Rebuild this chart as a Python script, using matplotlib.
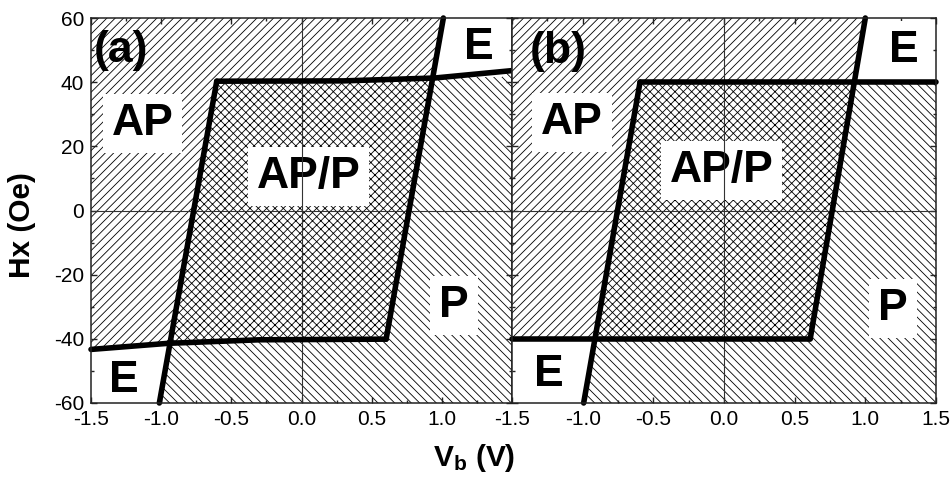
import matplotlib
matplotlib.use("Agg")
import matplotlib.pyplot as plt
from matplotlib.patches import Polygon
from matplotlib.ticker import MultipleLocator

plt.rcParams['font.family'] = ['Liberation Sans', 'DejaVu Sans']
plt.rcParams['mathtext.fontset'] = 'custom'
plt.rcParams['mathtext.rm'] = 'Liberation Sans'
plt.rcParams['mathtext.bf'] = 'Liberation Sans:bold'
plt.rcParams['hatch.linewidth'] = 0.6
plt.rcParams['axes.unicode_minus'] = False

# ---------------- data ----------------
x_ticks = [-1.5, -1.0, -0.5, 0.0, 0.5, 1.0, 1.5]
x_labels_a = ['-1.5', '-1.0', '-0.5', '0.0', '0.5', '1.0', '']
x_labels_b = ['-1.5', '-1.0', '-0.5', '0.0', '0.5', '1.0', '1.5']
y_ticks = [-60, -40, -20, 0, 20, 40, 60]

# panel (a) boundaries (V in volts, H in Oe)
a_left_V = [-1.013, -0.604]
a_left_H = [-60.0, 40.3]
a_right_V = [0.603, 1.011]
a_right_H = [-40.1, 60.0]
a_top_V = [-0.604, 0.3, 0.95, 1.5]
a_top_H = [40.3, 40.4, 41.3, 43.6]
a_bot_V = [0.603, -0.3, -0.95, -1.5]
a_bot_H = [-40.1, -40.3, -41.4, -43.3]

# panel (b) boundaries
b_left_V = [-0.993, -0.594]
b_left_H = [-60.0, 40.0]
b_right_V = [0.61, 1.0]
b_right_H = [-40.0, 60.0]
b_top_V = [-0.594, 1.5]
b_top_H = [40.0, 40.0]
b_bot_V = [0.61, -1.5]
b_bot_H = [-40.0, -40.0]

XMIN, XMAX, YMIN, YMAX = -1.5, 1.5, -60, 60


def seg_int(p1, p2, p3, p4):
    x1, y1 = p1; x2, y2 = p2; x3, y3 = p3; x4, y4 = p4
    d = (x1 - x2) * (y3 - y4) - (y1 - y2) * (x3 - x4)
    if abs(d) < 1e-12:
        return None
    t = ((x1 - x3) * (y3 - y4) - (y1 - y3) * (x3 - x4)) / d
    u = -((x1 - x2) * (y1 - y3) - (y1 - y2) * (x1 - x3)) / d
    if -1e-9 <= t <= 1 + 1e-9 and -1e-9 <= u <= 1 + 1e-9:
        return (x1 + t * (x2 - x1), y1 + t * (y2 - y1))
    return None


def cross(seg, poly):
    for i in range(len(poly) - 1):
        p = seg_int(seg[0], seg[1], poly[i], poly[i + 1])
        if p is not None:
            return p, i
    raise ValueError


def panel(ax, LV, LH, RV, RH, TV, TH, BV, BH):
    L = list(zip(LV, LH)); R = list(zip(RV, RH))
    T = list(zip(TV, TH)); B = list(zip(BV, BH))
    XRT, iT = cross(R, T)
    XLB, iB = cross(L, B)
    tail_b = [XLB] + B[iB + 1:]
    ap = list(reversed(tail_b)) + T[:iT + 1] + [XRT, R[1], (XMIN, YMAX)]
    app = [XLB] + T[:iT + 1] + [XRT] + B[:iB + 1]
    p = [L[0], XLB] + list(reversed(B[:iB + 1])) + [XRT] + T[iT + 1:] + [(XMAX, YMIN)]
    for poly, h in ((ap, '////'), (app, 'xxxx'), (p, '\\\\\\\\')):
        ax.add_patch(Polygon(poly, closed=True, facecolor='white', edgecolor='black',
                             linewidth=0, hatch=h, zorder=1))
    for xs, ys in ((LV, LH), (RV, RH), (TV, TH), (BV, BH)):
        ax.plot(xs, ys, color='black', lw=4, solid_capstyle='round',
                clip_on=False, zorder=6)
    ax.axvline(0, color='#333333', lw=0.8, zorder=4)
    ax.axhline(0, color='#333333', lw=0.8, zorder=4)
    ax.set_xlim(XMIN, XMAX)
    ax.set_ylim(YMIN, YMAX)
    ax.set_xticks(x_ticks)
    ax.set_yticks(y_ticks)
    ax.xaxis.set_minor_locator(MultipleLocator(0.25))
    ax.yaxis.set_minor_locator(MultipleLocator(10))
    ax.tick_params(which='both', direction='in', top=True, right=True,
                   labelsize=15, width=1, color='#222222')
    ax.tick_params(which='major', length=4)
    ax.tick_params(which='minor', length=2.5)
    ax.tick_params(axis='x', pad=5)
    ax.tick_params(axis='y', pad=5)
    for s in ax.spines.values():
        s.set_linewidth(1.1)
        s.set_color('#222222')
        s.set_zorder(7)


fig = plt.figure(figsize=(9.51, 4.84), dpi=100)
ax_a = fig.add_axes([91 / 951, 1 - 403 / 484, (512 - 91) / 951, (403 - 18) / 484])
ax_b = fig.add_axes([512 / 951, 1 - 403 / 484, (936 - 512) / 951, (403 - 18) / 484])

panel(ax_a, a_left_V, a_left_H, a_right_V, a_right_H, a_top_V, a_top_H, a_bot_V, a_bot_H)
panel(ax_b, b_left_V, b_left_H, b_right_V, b_right_H, b_top_V, b_top_H, b_bot_V, b_bot_H)

ax_a.set_xticklabels(x_labels_a)
ax_b.set_xticklabels(x_labels_b)
ax_b.tick_params(labelleft=False)

box = dict(facecolor='white', edgecolor='none', pad=6.5)
big = dict(fontsize=32, fontweight='bold', ha='center', va='center', zorder=3)

# panel (a) labels
ax_a.text(-1.283, 50, '(a)', **big)
ax_a.text(-1.133, 27, 'AP', bbox=box, **big)
ax_a.text(0.05, 10.7, 'AP/P', bbox=box, **big)
ax_a.text(1.262, 50.9, 'E', bbox=box, **big)
ax_a.text(1.087, -29.6, 'P', bbox=box, **big)
ax_a.text(-1.265, -53, 'E', bbox=box, **big)

# panel (b) labels
ax_b.text(-1.171, 49.5, '(b)', **big)
ax_b.text(-1.076, 27.4, 'AP', bbox=box, **big)
ax_b.text(-0.018, 12.4, 'AP/P', bbox=box, **big)
ax_b.text(1.272, 49.8, 'E', bbox=box, **big)
ax_b.text(1.196, -30.5, 'P', bbox=box, **big)
ax_b.text(-1.241, -51, 'E', bbox=box, **big)

fig.text(22 / 951, 1 - 225 / 484, 'Hx (Oe)', rotation=90, fontsize=21.5,
         fontweight='bold', ha='center', va='center')
fig.text(474 / 951, 1 - 458 / 484, r'$\mathbf{V_b}$ (V)', fontsize=21.5,
         fontweight='bold', ha='center', va='center')

fig.savefig('out.png', dpi=100)
